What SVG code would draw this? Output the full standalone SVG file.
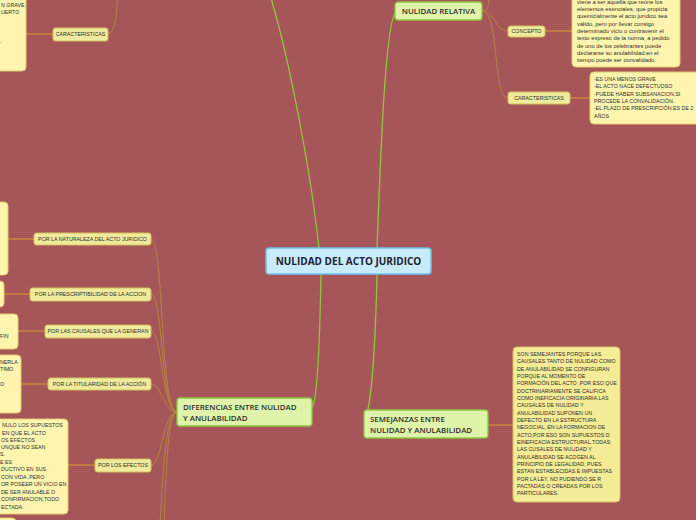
<svg xmlns="http://www.w3.org/2000/svg" width="696" height="520" viewBox="0 0 696 520">
<style>
.bg{fill:#a65559}
.main{fill:#c8ebfb;stroke:#69c3ec;stroke-width:1.5}
.green{fill:#dff4aa;stroke:#8dc63f;stroke-width:1.3}
.sub{fill:#f0eb9c;stroke:#d4c25a;stroke-width:1}
.box{fill:#fff5ae;stroke:#e2cc6c;stroke-width:1}
.t-main{font-family:"Open Sans","Noto Sans",sans-serif;font-weight:bold;font-size:10px;fill:#1a232b}
.t-green{font-family:"Open Sans","Noto Sans",sans-serif;font-weight:600;font-size:7.9px;fill:#2e2e2e}
.t-sub{font-family:"Liberation Sans",Arial,sans-serif;font-size:5.3px;fill:#2e2e2e}
.t-box{font-family:"Liberation Sans",Arial,sans-serif;font-size:5.3px;fill:#2e2e2e}
.t-low{font-family:"Liberation Sans",Arial,sans-serif;font-size:5.8px;fill:#2e2e2e}
.c-main{fill:none;stroke:#8fc73d;stroke-width:1.3}
.c-br{fill:none;stroke:#b48a3c;stroke-width:0.9}
.c-leaf{fill:none;stroke:#c2803e;stroke-width:1.8}
</style>
<rect class="bg" x="0" y="0" width="696" height="520"/>
<g id="connectors">
<path class="c-main" d="M319,249 C312,180 290,60 270,-5"/>
<path class="c-main" d="M377,249 C380,170 385,20 396,12"/>
<path class="c-main" d="M321,273 C320,330 318,400 312,408"/>
<path class="c-main" d="M377,273 C376,330 372,400 367,412"/>
<path class="c-br" d="M482,11 C496,11 494,31 508,31"/>
<path class="c-br" d="M482,11 C500,11 492,98 508,98"/>
<path class="c-br" d="M482,11 C490,11 488,3 489,-6"/>
<path class="c-leaf" d="M545,31 L572,31"/>
<path class="c-leaf" d="M570,98 L590,98"/>
<path class="c-br" d="M108,34 C116,32 116,15 118,-5"/>
<path class="c-leaf" d="M26,34 L53,34"/>
<path class="c-br" d="M177,412 C160,412 164,239 151,239"/>
<path class="c-br" d="M177,412 C161,412 163,294 151,294"/>
<path class="c-br" d="M177,412 C162,412 162,331 151,331"/>
<path class="c-br" d="M177,412 C163,412 162,384 151,384"/>
<path class="c-br" d="M177,412 C163,412 162,465 151,465"/>
<path class="c-br" d="M177,412 C166,412 163,470 160,525"/>
<path class="c-br" d="M177,412 C168,412 166,470 164,525"/>
<path class="c-leaf" d="M8,239 L34,239"/>
<path class="c-leaf" d="M4,294 L30,294"/>
<path class="c-leaf" d="M18,331 L45,331"/>
<path class="c-leaf" d="M21,384 L48,384"/>
<path class="c-leaf" d="M68,465 L95,465"/>
<path class="c-leaf" d="M488,425 L513,425"/>
</g>
<g id="central">
<rect class="main" x="266" y="248" width="165" height="26" rx="3"/>
<text class="t-main" x="348.5" y="264.8" text-anchor="middle">NULIDAD DEL ACTO JURIDICO</text>
</g>
<g id="nulidad-relativa">
<rect class="green" x="395" y="2" width="87" height="18" rx="3"/>
<text class="t-green" x="438.5" y="14" text-anchor="middle">NULIDAD RELATIVA</text>
</g>
<g id="concepto">
<rect class="sub" x="508" y="26" width="37" height="11" rx="2.5"/>
<text class="t-sub" x="526.5" y="33.3" text-anchor="middle">CONCEPTO</text>
</g>
<g id="concepto-texto">
<rect class="box" x="572" y="-6" width="108" height="73" rx="4"/>
<text class="t-low" x="577" y="3.5">viene a ser aquella que reúne los</text>
<text class="t-low" x="577" y="11">elementos esenciales, que propicia</text>
<text class="t-low" x="577" y="18.4">queinicialmente el acto jurídico  sea</text>
<text class="t-low" x="577" y="25.8">válido, pero por llevar consigo</text>
<text class="t-low" x="577" y="33.1">determinado vicio o contravenir el</text>
<text class="t-low" x="577" y="40.4">texto expreso de la norma, a pedido</text>
<text class="t-low" x="577" y="47.7">de uno de los celebrantes puede</text>
<text class="t-low" x="577" y="55.1">declararse su anulabilidad.en el</text>
<text class="t-low" x="577" y="62.4">tiempo puede ser convalidado.</text>
</g>
<g id="caracteristicas-relativa">
<rect class="sub" x="508" y="92" width="62" height="12" rx="2.5"/>
<text class="t-sub" x="539" y="99.8" text-anchor="middle">CARACTERISTICAS</text>
</g>
<g id="caracteristicas-relativa-texto">
<rect class="box" x="590" y="72" width="110" height="52" rx="4"/>
<text class="t-box" x="594" y="80.8">-ES UNA MENOS GRAVE</text>
<text class="t-box" x="594" y="88.2">-EL ACTO NACE DEFECTUOSO</text>
<text class="t-box" x="594" y="95.6">-PUEDE HABER SUBSANACION,SI</text>
<text class="t-box" x="594" y="103">PROCEDE LA CONVALIDACIÓN.</text>
<text class="t-box" x="594" y="110.4">-EL PLAZO DE PRESCRIPCIÓN ES DE 2</text>
<text class="t-box" x="594" y="117.8">AÑOS</text>
</g>
<g id="caracteristicas-absoluta">
<rect class="sub" x="53" y="28" width="55" height="13" rx="2.5"/>
<text class="t-sub" x="80.5" y="36.3" text-anchor="middle">CARACTERISTICAS</text>
</g>
<g id="caracteristicas-absoluta-texto">
<rect class="box" x="-10" y="-6" width="36" height="77" rx="4"/>
<text class="t-box" x="1" y="7">N GRAVE</text>
<text class="t-box" x="1" y="14">UERTO</text>
<text class="t-box" x="-1" y="44">-</text>
</g>
<g id="diferencias">
<rect class="green" x="177" y="398" width="135" height="28" rx="3"/>
<text class="t-green" x="183" y="410">DIFERENCIAS ENTRE NULIDAD</text>
<text class="t-green" x="183" y="420.5">Y ANULABILIDAD</text>
</g>
<g id="naturaleza">
<rect class="sub" x="34" y="233" width="117" height="12" rx="2.5"/>
<text class="t-sub" x="92.5" y="240.8" text-anchor="middle">POR LA NATURALEZA DEL ACTO JURIDICO</text>
</g>
<g id="naturaleza-texto">
<rect class="box" x="-10" y="202" width="18" height="73" rx="4"/>
</g>
<g id="prescriptibilidad">
<rect class="sub" x="30" y="288" width="121" height="13" rx="2.5"/>
<text class="t-sub" x="90.5" y="296.3" text-anchor="middle">POR LA PRESCRIPTIBILIDAD DE LA ACCION</text>
</g>
<g id="prescriptibilidad-texto">
<rect class="box" x="-10" y="281" width="14" height="26" rx="4"/>
</g>
<g id="causales">
<rect class="sub" x="45" y="325" width="106" height="13" rx="2.5"/>
<text class="t-sub" x="98" y="333.3" text-anchor="middle">POR LAS CAUSALES QUE LA GENERAN</text>
</g>
<g id="causales-texto">
<rect class="box" x="-10" y="314" width="28" height="35" rx="4"/>
<text class="t-box" x="-1" y="330">.</text>
<text class="t-box" x="0" y="338">FIN</text>
</g>
<g id="titularidad">
<rect class="sub" x="48" y="378" width="103" height="12" rx="2.5"/>
<text class="t-sub" x="99.5" y="385.8" text-anchor="middle">POR LA TITULARIDAD DE LA ACCIÓN</text>
</g>
<g id="titularidad-texto">
<rect class="box" x="-10" y="355" width="31" height="58" rx="4"/>
<text class="t-box" x="0" y="364">NERLA</text>
<text class="t-box" x="0" y="371">TIMO</text>
<text class="t-box" x="0" y="386">O</text>
</g>
<g id="efectos">
<rect class="sub" x="95" y="459" width="56" height="13" rx="2.5"/>
<text class="t-sub" x="123" y="467.3" text-anchor="middle">POR LOS EFECTOS</text>
</g>
<g id="efectos-texto">
<rect class="box" x="-10" y="419" width="78" height="95" rx="4"/>
<text class="t-box" x="2" y="427">NULO LOS SUPUESTOS</text>
<text class="t-box" x="2" y="434.5">EN QUE EL ACTO</text>
<text class="t-box" x="1" y="441.5">OS EFECTOS</text>
<text class="t-box" x="1" y="449">UNQUE NO SEAN</text>
<text class="t-box" x="0" y="456">S.</text>
<text class="t-box" x="0" y="463.5">E ES</text>
<text class="t-box" x="1" y="471">DUCTIVO EN SUS</text>
<text class="t-box" x="1" y="478.5">CON VIDA ,PERO</text>
<text class="t-box" x="1" y="486">OR POSEER UN VICIO EN</text>
<text class="t-box" x="1" y="493.5">DE SER ANULABLE O</text>
<text class="t-box" x="1" y="501">CONFIRMACION,TODO</text>
<text class="t-box" x="1" y="508.5">ECTADA.</text>
</g>
<g id="otro-texto">
<rect class="box" x="-10" y="518" width="26" height="10" rx="4"/>
</g>
<g id="semejanzas">
<rect class="green" x="364" y="410" width="124" height="28" rx="3"/>
<text class="t-green" x="370" y="421.5">SEMEJANZAS ENTRE</text>
<text class="t-green" x="370" y="432.5">NULIDAD Y ANULABILIDAD</text>
</g>
<g id="semejanzas-texto">
<rect class="box" x="513" y="347" width="107" height="155" rx="4" style="fill:#f4ec96;stroke:#d6c25e"/>
<text class="t-box" x="517" y="356">SON SEMEJANTES PORQUE LAS</text>
<text class="t-box" x="517" y="363.3">CAUSALES TANTO DE NULIDAD COMO</text>
<text class="t-box" x="517" y="370.7">DE ANULABILIDAD SE CONFIGURAN</text>
<text class="t-box" x="517" y="378">PORQUE AL MOMENTO DE</text>
<text class="t-box" x="517" y="385.4">FORMACIÓN DEL ACTO ,POR ESO QUE</text>
<text class="t-box" x="517" y="392.7">DOCTRINARIAMENTE SE CALIFICA</text>
<text class="t-box" x="517" y="400">COMO INEFICACIA ORIGINARIA.LAS</text>
<text class="t-box" x="517" y="407.4">CAUSALES DE NULIDAD Y</text>
<text class="t-box" x="517" y="414.7">ANULABILIDAD SUPONEN UN</text>
<text class="t-box" x="517" y="422">DEFECTO EN LA ESTRUCTURA</text>
<text class="t-box" x="517" y="429.4">NEGOCIAL, EN LA FORMACION DE</text>
<text class="t-box" x="517" y="436.7">ACTO,POR ESO SON SUPUESTOS D</text>
<text class="t-box" x="517" y="444">EINEFICACIA ESTRUCTURAL.TODAS</text>
<text class="t-box" x="517" y="451.4">LAS CUSALES DE NULIDAD Y</text>
<text class="t-box" x="517" y="458.7">ANULABILIDAD SE ACOGEN AL</text>
<text class="t-box" x="517" y="466">PRINCIPIO DE LEGALIDAD, PUES</text>
<text class="t-box" x="517" y="473.4">ESTAN ESTABLECIDAS E IMPUESTAS</text>
<text class="t-box" x="517" y="480.7">POR LA LEY, NO PUDIENDO SE R</text>
<text class="t-box" x="517" y="488">PACTADAS O CREADAS POR LOS</text>
<text class="t-box" x="517" y="495.4">PARTICULARES.</text>
</g>
</svg>
